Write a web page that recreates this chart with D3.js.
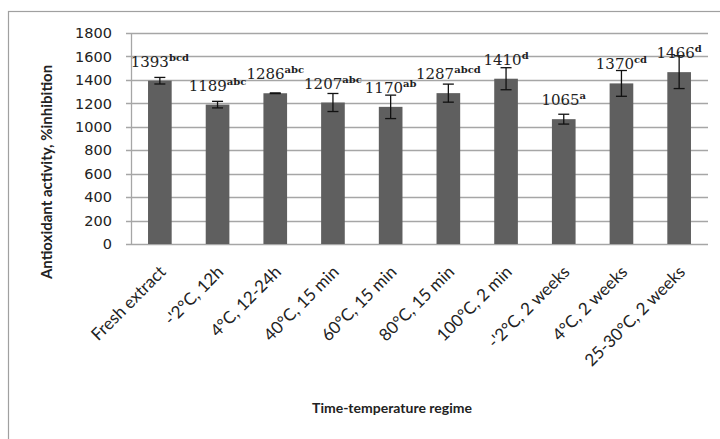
<!DOCTYPE html>
<html>
<head>
<meta charset="utf-8">
<script src="https://cdn.jsdelivr.net/npm/d3@7"></script>
<style>
  body { margin: 0; background: #fff; }
  svg { display: block; }
</style>
</head>
<body>
<div id="chart"></div>
<script>
'use strict';

var categories = ['Fresh extract', "-'2°C, 12h", '4°C, 12-24h', '40°C, 15 min', '60°C, 15 min',
  '80°C, 15 min', '100°C, 2 min', "-'2°C, 2 weeks", '4°C, 2 weeks', '25-30°C, 2 weeks'];
var values = [1393, 1189, 1286, 1207, 1170, 1287, 1410, 1065, 1370, 1466];
var errors = [28, 28, 3, 77, 100, 77, 94, 42, 110, 140];
var letters = ['bcd', 'abc', 'abc', 'abc', 'ab', 'abcd', 'd', 'a', 'cd', 'd'];
var yTicks = [0, 200, 400, 600, 800, 1000, 1200, 1400, 1600, 1800];

var width = 720;
var height = 439;
var plotLeft = 131;
var plotRight = 708;
var plotTop = 33;
var plotBottom = 244;

var barColor = '#5f5f5f';
var gridColor = '#a6a6a6';

var svg = d3.select('#chart').append('svg').attr('width', width).attr('height', height);

// outer chart border (cropped on the right and bottom)
svg.append('rect').attr('x', 8.5).attr('y', 11.5).attr('width', 730).attr('height', 460)
  .attr('fill', 'none').attr('stroke', '#a0a0a0').attr('stroke-width', 1.2);

var x = d3.scaleBand().domain(categories).range([plotLeft, plotRight]).paddingInner(0.59).paddingOuter(0.295);
var y = d3.scaleLinear().domain([0, 1800]).range([plotBottom, plotTop]);

// grid
svg.append('g').selectAll('line').data(yTicks).join('line')
  .attr('x1', plotLeft - 5).attr('x2', plotRight)
  .attr('y1', function (d) { return Math.round(y(d)) + 0.5; })
  .attr('y2', function (d) { return Math.round(y(d)) + 0.5; })
  .attr('stroke', gridColor).attr('stroke-width', 1.3);

// y axis line
svg.append('line').attr('x1', plotLeft + 0.5).attr('x2', plotLeft + 0.5)
  .attr('y1', plotTop).attr('y2', plotBottom)
  .attr('stroke', gridColor).attr('stroke-width', 1.3);

// y tick labels
svg.append('g').selectAll('text').data(yTicks).join('text')
  .attr('x', plotLeft - 19).attr('y', function (d) { return y(d); })
  .attr('dy', '0.36em').attr('text-anchor', 'end')
  .attr('font-family', 'DejaVu Sans').attr('font-size', 14.5).attr('fill', '#222')
  .text(function (d) { return d; });

// bars
svg.append('g').selectAll('rect').data(values).join('rect')
  .attr('x', function (d, i) { return x(categories[i]); })
  .attr('y', function (d) { return y(d); })
  .attr('width', x.bandwidth())
  .attr('height', function (d) { return y(0) - y(d); })
  .attr('fill', barColor);

// error bars
var err = svg.append('g').attr('stroke', '#111').attr('stroke-width', 1.3);
values.forEach(function (v, i) {
  var cx = x(categories[i]) + x.bandwidth() / 2;
  var hi = y(v + errors[i]);
  var lo = y(v - errors[i]);
  err.append('line').attr('x1', cx).attr('x2', cx).attr('y1', hi).attr('y2', lo);
  err.append('line').attr('x1', cx - 5.5).attr('x2', cx + 5.5).attr('y1', hi).attr('y2', hi);
  err.append('line').attr('x1', cx - 5.5).attr('x2', cx + 5.5).attr('y1', lo).attr('y2', lo);
});

// value labels with superscript letters
values.forEach(function (v, i) {
  var cx = x(categories[i]) + x.bandwidth() / 2;
  var t = svg.append('text').attr('x', cx).attr('y', y(v) - 14)
    .attr('text-anchor', 'middle').attr('font-family', 'DejaVu Serif')
    .attr('font-size', 15).attr('fill', '#222');
  t.append('tspan').text(v);
  t.append('tspan').attr('dy', -6).attr('font-size', 10).attr('font-weight', 'bold').text(letters[i]);
});

// category labels
svg.append('g').selectAll('text').data(categories).join('text')
  .attr('transform', function (d) {
    return 'translate(' + (x(d) + x.bandwidth() / 2 + 7) + ',' + 273 + ') rotate(-45)';
  })
  .attr('text-anchor', 'end').attr('font-family', 'Lato').attr('font-size', 17).attr('fill', '#222')
  .text(function (d) { return d; });

// axis titles
svg.append('text').attr('transform', 'translate(52,172) rotate(-90)')
  .attr('text-anchor', 'middle').attr('font-family', 'Lato').attr('font-weight', 'bold')
  .attr('font-size', 15).attr('fill', '#222')
  .text('Antioxidant activity, %inhibition');

svg.append('text').attr('x', 392).attr('y', 413)
  .attr('text-anchor', 'middle').attr('font-family', 'Lato').attr('font-weight', 'bold')
  .attr('font-size', 14).attr('fill', '#222')
  .text('Time-temperature regime');
</script>
</body>
</html>
